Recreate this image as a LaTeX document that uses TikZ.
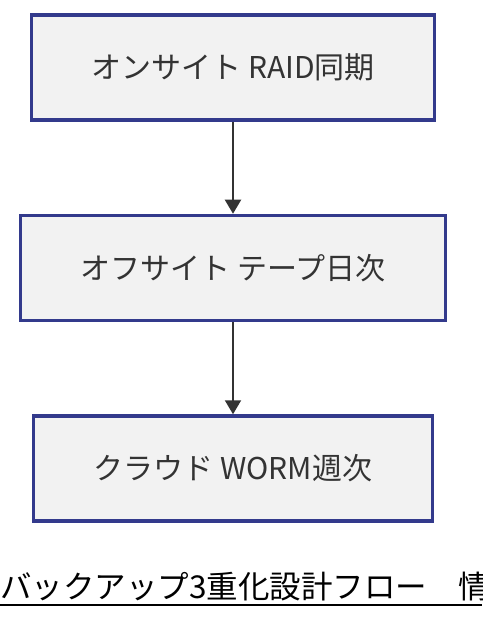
\documentclass[tikz,border=0pt]{standalone}
\usepackage{fontspec}
\setmainfont{Noto Sans CJK JP}
\newfontfamily\titlefont{Noto Sans CJK JP}
\usepackage{xcolor}
\usetikzlibrary{positioning,arrows.meta}

\definecolor{stageline}{HTML}{333A8C}
\definecolor{stagefill}{HTML}{F2F2F2}
\definecolor{textgray}{HTML}{333333}

\tikzset{
  stage/.style={rectangle, draw=stageline, fill=stagefill, line width=3.5pt,
    minimum height=105pt, inner xsep=60pt, text=textgray, font=\fontsize{30pt}{34pt}\selectfont},
  flow/.style={-{Triangle[length=14pt,width=16pt]}, draw=textgray, line width=2pt}
}

\begin{document}
\begin{tikzpicture}[x=1pt, y=-1pt]
      \useasboundingbox (0,0) rectangle (482,620);
      \node [stage] (raid) at (233, 67.5) {オンサイト RAID同期};
      \node [stage, below=92pt of raid] (tape) {オフサイト テープ日次};
      \node [stage, below=92pt of tape] (worm) {クラウド WORM週次};
      \draw [flow] (raid) -- (tape);
      \draw [flow] (tape) -- (worm);
      \begin{scope}
        \clip (0,0) rectangle (482,620);
        \node [anchor=base west, inner sep=0pt, font=\titlefont\fontsize{31.5pt}{36pt}\selectfont] (title) at (0, 598) {バックアップ3重化設計フロー　情};
        \draw [line width=2pt] (title.base west) ++(0,7) -- ++(482,0);
      \end{scope}
    \end{tikzpicture}
\end{document}
